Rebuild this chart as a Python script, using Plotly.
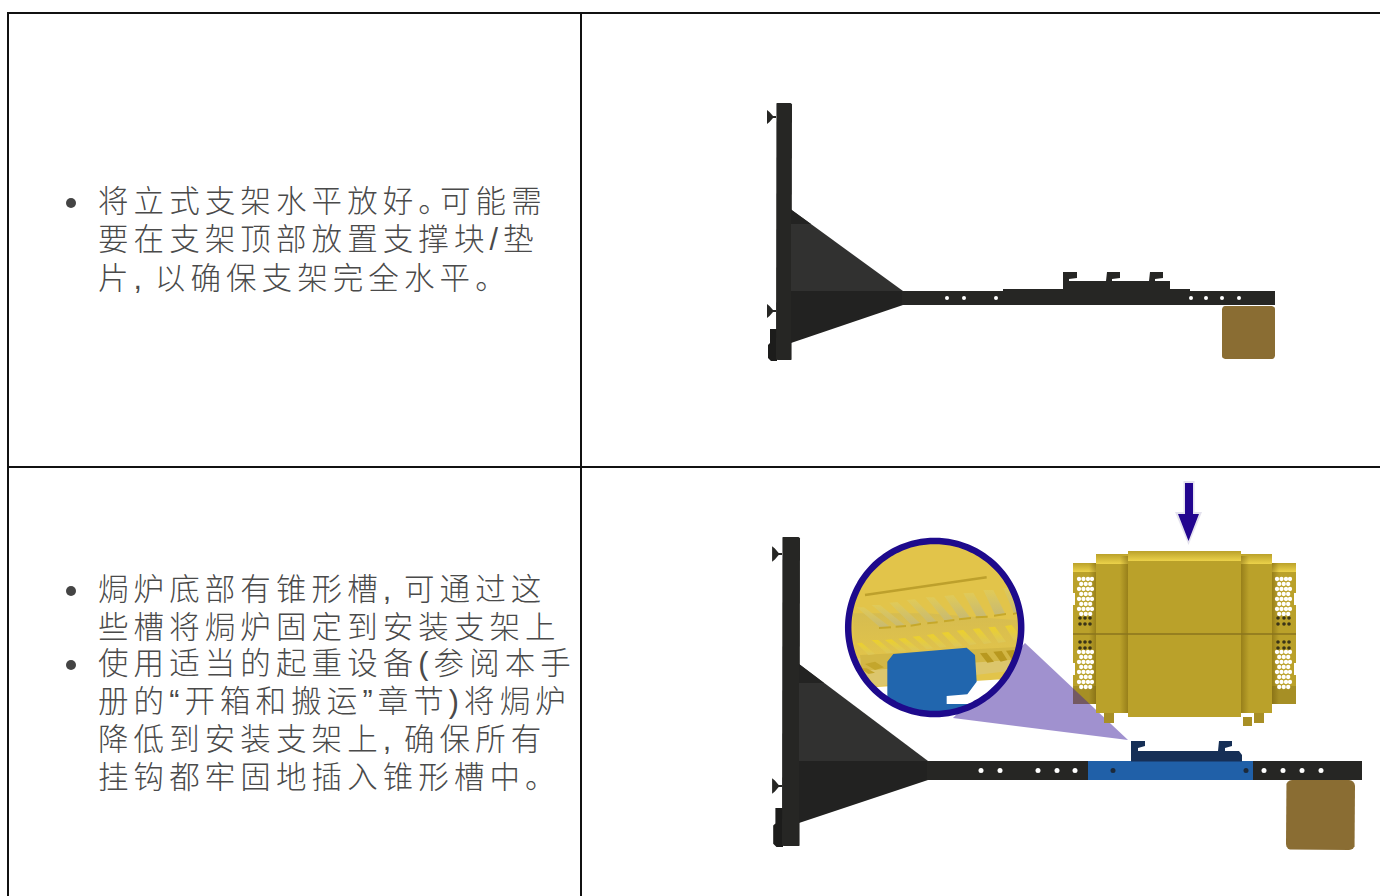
import numpy as np
import plotly.graph_objects as go

W, H = 1380, 896
FONT = "Liberation Sans, Noto Sans CJK SC"
HAIR = "\u200a\u200a"

# ---- text content
cell1_lines = ["将立式支架水平放好。", "可能需", "要在支架顶部放置支撑块/垫", "片, 以确保支架完全水平。"]
cell1_x = [98, 440, 98, 98]
cell1_y = [204, 204, 242, 281]
cell1_bullets = [203]
cell2_lines = ["焗炉底部有锥形槽, 可通过这", "些槽将焗炉固定到安装支架上", "使用适当的起重设备(参阅本手",
               "册的“开箱和搬运”章节)将焗炉", "降低到安装支架上, 确保所有", "挂钩都牢固地插入锥形槽中。"]
cell2_x = [98, 98, 98, 98, 98, 98]
cell2_y = [592, 630, 666, 704, 742, 780]
cell2_bullets = [591, 665]

# ---- colours
INK = "#262624"; GUSSET = "#313130"; GUSSET_LOW = "#222221"
BROWN = "#8a6d33"; BLUE = "#2060a8"; NAVY = "#162f56"; ARROW = "#22058f"
YEL = "#baa12a"; YEL_HI = "#ecd24a"
SHADE = "rgba(95,72,0,0.38)"; CLEAR = "rgba(95,72,0,0)"

fig = go.Figure()


def poly(pts, color, grad=None, gtype="vertical"):
    xs, ys = zip(*pts)
    kw = dict(fillcolor=color)
    if grad:
        kw = dict(fillgradient=dict(type=gtype, colorscale=[[0, grad[0]], [1, grad[1]]]))
    fig.add_trace(go.Scatter(x=list(xs) + [xs[0]], y=list(ys) + [ys[0]], mode="lines", fill="toself",
                             line=dict(width=0, color=color), hoverinfo="skip", **kw))


def rect(x0, y0, x1, y1, color, grad=None, gtype="vertical"):
    poly([(x0, y0), (x1, y0), (x1, y1), (x0, y1)], color, grad, gtype)


def rrect(x0, y0, x1, y1, r, color):
    pts = []
    for cx, cy, a in [(x1 - r, y0 + r, -90), (x1 - r, y1 - r, 0), (x0 + r, y1 - r, 90), (x0 + r, y0 + r, 180)]:
        for t in np.radians(np.linspace(a, a + 90, 5)):
            pts.append((cx + r * np.cos(t), cy + r * np.sin(t)))
    poly(pts, color)


def dots(xs, ys, color, size):
    fig.add_trace(go.Scatter(x=xs, y=ys, mode="markers", hoverinfo="skip",
                             marker=dict(color=color, size=size, line=dict(width=0))))


def knob(x, y, s):
    poly([(x - 9 * s, y - 7 * s), (x - 6.5 * s, y - 5 * s), (x - 3 * s, y - 1 * s), (x, y - 1 * s), (x, y + 1 * s),
          (x - 3 * s, y + 1 * s), (x - 6.5 * s, y + 5 * s), (x - 9 * s, y + 7 * s)], INK)


def bracket(x, y0, y1, s):
    poly([(x + 1, y0), (x - 6 * s, y0), (x - 6 * s, y0 + 14 * s), (x - 8 * s, y0 + 16 * s), (x - 8 * s, y1 - 3 * s),
          (x - 5 * s, y1), (x + 1, y1)], "#1c1c1b")


# ================= panel 1 =================
knob(776, 117, 1)
knob(776, 311, 1)
bracket(776, 329, 361, 1)
rrect(776, 103, 792, 360, 1.5, INK)
poly([(791, 209.5), (903, 291), (791, 291)], GUSSET)
poly([(791, 209.5), (811, 224), (791, 224)], "#232322")
poly([(791, 291), (903, 291), (903, 305), (791, 343)], GUSSET_LOW)
rect(902, 291, 1275, 305, INK)
rect(1003, 289, 1190, 291.5, INK)
poly([(1063, 291.5), (1063, 272), (1077, 272), (1077, 278), (1069, 279), (1069, 281), (1106, 281), (1107, 272),
      (1120, 272), (1120, 278), (1112, 279), (1112, 281), (1149, 281), (1150, 272), (1163, 272), (1163, 278),
      (1155, 279), (1155, 281), (1170, 281), (1170, 291.5)], INK)
dots([947, 964, 996, 1191, 1206, 1222, 1239], [298] * 7, "white", 4)
rrect(1222, 306, 1275, 359, 3, BROWN)

# ================= panel 2 =================
knob(782, 554, 1.1)
knob(782, 786, 1.1)
bracket(782, 808, 847, 1.1)
rrect(782, 537, 800, 846, 1.5, INK)
poly([(799, 664), (928, 761), (799, 761)], GUSSET)
poly([(799, 664), (824, 683), (799, 683)], "#232322")
poly([(799, 761), (928, 761), (928, 780), (799, 823)], GUSSET_LOW)
rect(927, 761, 1362, 780, INK)
rect(1088, 761, 1253, 780, BLUE)
poly([(1131, 761.5), (1131, 741), (1145, 741), (1145, 746), (1138, 748), (1138, 751), (1218, 751), (1219, 741),
      (1232, 741), (1232, 746), (1225, 748), (1225, 751), (1239, 751), (1242, 755), (1242, 761.5)], NAVY)
dots([981, 1000, 1038, 1057, 1075, 1264, 1283, 1302, 1321], [770.5] * 9, "white", 5)
dots([1113, 1246], [770.5] * 2, "#1d2a3a", 5)
rrect(1286, 780, 1355, 850, 6, BROWN)

# arrow with pale halo
poly([(1183.5, 481), (1194.5, 481), (1194.5, 512), (1202, 512), (1188.5, 545), (1175, 512), (1183.5, 512)], "#e4e2ee")
poly([(1185, 483), (1193, 483), (1193, 514), (1199, 514), (1188.5, 541), (1178, 514), (1185, 514)], ARROW)

# furnace, outer sections
rect(1073, 563, 1096, 704, YEL)
rect(1272, 563, 1296, 704, YEL)
rect(1073, 563, 1096, 572, YEL_HI, (YEL_HI, YEL))
rect(1272, 563, 1296, 572, YEL_HI, (YEL_HI, YEL))
rect(1272, 686, 1296, 704, "#a68f25")
rect(1073, 686, 1096, 704, "#a68f25")
for ny in [593, 663]:
    rect(1072, ny, 1075, ny + 12, "white")
    rect(1294, ny, 1297, ny + 12, "white")

# purple magnifier cone
poly([(1025, 643), (1128, 740), (953, 718)], "rgba(66,36,160,0.5)")

# furnace, main sections
for pts in [(1096, 554, 1128, 713), (1241, 554, 1272, 713)]:
    rect(*pts, YEL)
rect(1128, 551, 1241, 717, YEL)
rect(1096, 554, 1128, 564, YEL_HI, (YEL_HI, YEL))
rect(1241, 554, 1272, 564, YEL_HI, (YEL_HI, YEL))
rect(1128, 551, 1241, 561, YEL_HI, (YEL_HI, YEL))
rect(1120, 556, 1128, 713, YEL, (CLEAR, SHADE), "horizontal")
rect(1241, 556, 1249, 713, YEL, (SHADE, CLEAR), "horizontal")
rect(1089, 563, 1096, 704, YEL, (CLEAR, SHADE), "horizontal")
rect(1272, 563, 1279, 704, YEL, (SHADE, CLEAR), "horizontal")
rect(1073, 633.3, 1296, 634.8, "#8a741e")
rect(1104, 713, 1114, 723, "#a88f25")
rect(1243, 717, 1252, 726, "#a88f25")
rect(1254, 713, 1264, 723, "#a88f25")

# honeycomb perforations of the furnace sides
hole_col_left = [1079, 1083.5, 1088, 1092]
hole_col_right = [1277, 1281.5, 1286, 1290]
hole_rows_up = [579, 584, 589, 594, 599, 604, 609, 614]
hole_rows_low = [652, 657, 662, 667, 672, 677, 682, 687]
for cols in (hole_col_left, hole_col_right):
    for rows in (hole_rows_up, hole_rows_low):
        xs, ys = [], []
        for r, y in enumerate(rows):
            for c, x in enumerate(cols[:3] if r % 2 else cols[:4]):
                xs.append(x + (2.2 if r % 2 else 0))
                ys.append(y)
        dots(xs, ys, "white", 4.3)
dark_x_left = [1080, 1085, 1090]
dark_x_right = [1278, 1284, 1289]
dark_y = [618, 624, 642, 648]
for cols in (dark_x_left, dark_x_right):
    dots([x for x in cols for _ in dark_y], [y for _ in cols for y in dark_y], "#3a3418", 3.6)

# magnifier disc
CX, CY, R = 934.7, 627.5, 85


def Z(zx, zy):
    return (760 + zx / 3, 480 + zy / 3)


def arc(a0, a1, n=30, r=R):
    return [(CX + r * np.cos(t), CY + r * np.sin(t)) for t in np.radians(np.linspace(a0, a1, n))]


def clip(pts):
    out = []
    for x, y in pts:
        d = np.hypot(x - CX, y - CY)
        k = min(1.0, R / d) if d else 1.0
        out.append((CX + (x - CX) * k, CY + (y - CY) * k))
    return out


def slot(s, color, grad=None, lip=None):
    poly(clip([Z(s[0], s[1]), Z(s[2], s[3]), Z(s[4], s[5]), Z(s[6], s[7])]), color, grad)
    if lip:
        poly(clip([Z(s[6] - 3, s[7] - 1), Z(s[4] + 3, s[5] - 1), Z(s[4] + 3, s[5] + 5), Z(s[6] - 3, s[7] + 5)]), lip)


poly(arc(0, 360, 90), "#e2c44a")
# paler lower deck, bright band
poly(clip([Z(278, 400), Z(500, 400), Z(795, 420), Z(795, 520), Z(280, 540)]), "#dcc152",
     ("#e2c44a", "#d6bc50"))
poly(clip([Z(285, 535), Z(790, 520), Z(770, 590), Z(340, 622)]), "#dcc66c")
poly(clip([Z(300, 525), Z(790, 505), Z(790, 552), Z(300, 575)]), "#d3b745")
# perforation slots, row 1
row1 = [(730, 325, 750, 322, 780, 395, 762, 400), (670, 330, 700, 330, 735, 400, 705, 405),
        (610, 340, 640, 338, 680, 408, 650, 410), (553, 348, 580, 345, 630, 412, 600, 416),
        (497, 352, 522, 352, 580, 418, 555, 422), (440, 360, 465, 358, 530, 425, 505, 428),
        (388, 368, 412, 366, 480, 430, 455, 435), (335, 375, 360, 375, 435, 436, 410, 438),
        (290, 382, 312, 382, 390, 440, 360, 442)]
for s in row1:
    slot(s, "#cdbd6e", ("#c8ba72", "#e0ca58"), "#c6a82a")
row2 = [(735, 438, 755, 435, 780, 465, 762, 482), (685, 442, 705, 440, 738, 485, 715, 488),
        (638, 447, 658, 445, 695, 488, 672, 492), (590, 452, 610, 450, 650, 492, 628, 495),
        (545, 458, 565, 456, 608, 497, 585, 500), (500, 465, 520, 462, 560, 500, 540, 503),
        (458, 470, 478, 468, 520, 505, 500, 508), (415, 476, 435, 474, 480, 510, 458, 512),
        (375, 480, 395, 478, 440, 513, 420, 515), (335, 480, 355, 480, 400, 518, 380, 520),
        (290, 490, 305, 488, 345, 522, 325, 525)]
for s in row2:
    slot(s, "#e8cc3a", ("#dcc65a", "#ecd02c"))
row3 = [(660, 520, 680, 518, 702, 545, 682, 548), (700, 515, 725, 513, 742, 540, 722, 545),
        (738, 512, 762, 510, 775, 535, 755, 538)]
for s in row3:
    slot(s, "#b8981f")
for s in [(315, 552, 345, 545, 372, 562, 345, 570), (295, 568, 320, 565, 345, 578, 325, 582)]:
    slot(s, "#c4a62c")
# long seam
seam = [Z(315, 345), Z(580, 308), Z(680, 292)]
fig.add_trace(go.Scatter(x=[p[0] for p in seam], y=[p[1] for p in seam], mode="lines", hoverinfo="skip",
                         line=dict(color="#bda02c", width=2.5)))
# white below the deck, inside the disc
poly([Z(340, 622), Z(740, 597)] + arc(18, 128), "white")
# blue hook
poly([Z(382, 650), Z(382, 545), Z(400, 522), Z(620, 503), Z(645, 525), Z(650, 605), Z(622, 643), Z(560, 648),
      Z(560, 672), Z(660, 672)] + arc(62, 125, 20), "#2166ae")
# ring
rg = arc(0, 360, 121, 86.5)
fig.add_trace(go.Scatter(x=[p[0] for p in rg], y=[p[1] for p in rg], mode="lines", hoverinfo="skip",
                         line=dict(color="#1e0a8c", width=6.5, shape="spline")))


# ================= text =================
def spaced(s):
    return HAIR.join(s).replace(" ", "\u200a")


for xs, lines, ys in [(cell1_x, cell1_lines, cell1_y), (cell2_x, cell2_lines, cell2_y)]:
    fig.add_trace(go.Scatter(x=xs, y=ys, mode="text", text=[spaced(s) for s in lines],
                             textposition="middle right", hoverinfo="skip",
                             textfont=dict(family=FONT, size=30.5, color="#4a4a4a", weight=300)))
bullet_ys = cell1_bullets + cell2_bullets
dots([71] * len(bullet_ys), bullet_ys, "#444444", 10)

# ================= table rules =================
rule = dict(type="line", layer="above", line=dict(color="#111111", width=2))
shapes = [dict(x0=7, x1=W, y0=13, y1=13, **rule), dict(x0=8, x1=W, y0=467, y1=467, **rule),
          dict(x0=8, x1=8, y0=13, y1=H, **rule), dict(x0=581, x1=581, y0=13, y1=H, **rule)]

fig.update_layout(width=W, height=H, margin=dict(l=0, r=0, t=0, b=0), showlegend=False,
                  paper_bgcolor="white", plot_bgcolor="white", shapes=shapes,
                  xaxis=dict(range=[0, W], visible=False, fixedrange=True),
                  yaxis=dict(range=[H, 0], visible=False, fixedrange=True))
fig.write_html("out.html", post_script="document.body.style.margin='0';document.body.style.overflow='hidden';",
               config={"displayModeBar": False})
